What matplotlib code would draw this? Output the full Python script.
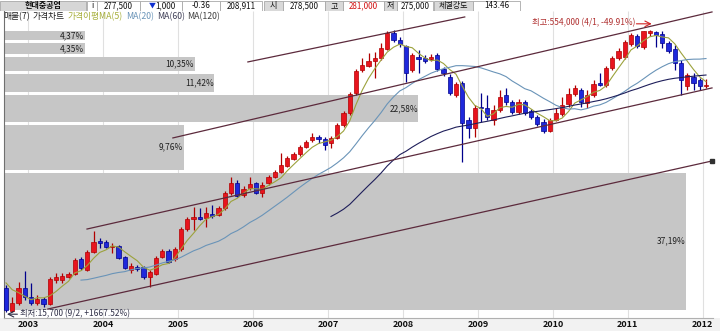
#! /usr/bin/env python3

import numpy as np
import pandas as pd
import matplotlib
matplotlib.use('Agg')
import matplotlib.pyplot as plt
import matplotlib.transforms as mtransforms
from matplotlib.patches import Rectangle

# monthly candles from 2002-09 to 2012-01 (현대중공업)
first_month = '2002-09'
opens = [21300, 15900, 17600, 21300, 19000, 17600, 18500, 17400, 23500, 23600,
         24400, 25400, 30700, 26700, 33500, 38500, 38000, 35700, 36100, 31500,
         26700, 27800, 27700, 24400, 25400, 31500, 33900, 30700, 34800, 44800,
         50900, 52200, 51500, 54200, 53500, 58500, 70700, 80400, 68900, 75300,
         80400, 70700, 80400, 86500, 92200, 99400, 108600, 115700, 126400, 138100,
         143000, 139900, 133000, 141700, 167000, 194300, 250300, 334600, 352000, 375000,
         389500, 436400, 534200, 489000, 453300, 334600, 394400, 389500, 384500, 404500,
         338900, 306300, 244000, 284000, 177900, 160700, 209700, 207000, 177900, 201800,
         244000, 223300, 196800, 223300, 199300, 184700, 173400, 154800, 177900, 191900,
         217700, 247100, 259900, 220500, 244000, 284000, 276800, 343100, 389500, 394400,
         464800, 514300, 447700, 535000, 540000, 527500, 470800, 436400, 365600, 273300,
         306300, 294900, 272000]
highs = [22100, 19000, 22900, 26400, 22600, 19500, 19000, 24400, 25700, 25700,
         26000, 31000, 31500, 34400, 43700, 40000, 39000, 37600, 36600, 31900,
         29200, 28400, 28100, 26700, 31900, 34800, 34800, 35700, 46000, 52200,
         59200, 58500, 59200, 60700, 60000, 72500, 86500, 83300, 77200, 86500,
         81300, 81300, 88700, 94500, 117200, 112800, 118700, 129700, 138100, 150900,
         147100, 143000, 145300, 171300, 199300, 253500, 339000, 389500, 414900, 420100,
         470800, 550000, 552000, 507800, 459000, 414900, 430900, 404500, 409600, 414900,
         347600, 318100, 287600, 291200, 185000, 215000, 250300, 244000, 215000, 259900,
         266600, 229000, 232000, 229000, 204400, 189500, 180100, 182400, 207000, 237900,
         266600, 276800, 266600, 259900, 294900, 322400, 352000, 399400, 442000, 489000,
         534200, 527500, 550000, 554000, 550000, 547000, 482800, 459000, 379700, 322400,
         322400, 302500, 298000]
lows = [15700, 15750, 17150, 18300, 17150, 17150, 16700, 17150, 22700, 22700,
        24100, 25000, 26700, 26400, 33100, 35300, 35300, 33100, 30700, 27000,
        25700, 26400, 23800, 21500, 25000, 31100, 29200, 29900, 33900, 43700,
        44300, 50200, 46000, 51500, 52900, 57000, 68900, 67100, 67100, 73400,
        69800, 67100, 78200, 85400, 91000, 98100, 107300, 112800, 124800, 134700,
        133000, 121700, 124800, 139900, 162800, 189500, 244000, 326300, 347600, 302500,
        379700, 430900, 476800, 447700, 287600, 326300, 322400, 365600, 374900, 330400,
        310200, 244000, 237900, 104600, 141700, 143000, 173400, 177900, 167000, 196800,
        215000, 191900, 191900, 189500, 180100, 164900, 150900, 152900, 175600, 187100,
        209700, 240900, 209700, 207000, 237900, 273300, 269900, 334600, 379700, 384500,
        453300, 442000, 436400, 514300, 447700, 442000, 414900, 334600, 244000, 259900,
        259900, 259900, 266000]
closes = [16100, 17600, 21300, 19000, 17600, 18500, 17400, 23800, 24400, 24700,
          25400, 30300, 27400, 33500, 38000, 37500, 35700, 36200, 31100, 27400,
          28100, 27200, 24400, 26000, 31100, 33900, 29500, 34800, 44800, 50900,
          52200, 50900, 54900, 52900, 58500, 70700, 80400, 68000, 74300, 79200,
          70700, 78200, 86500, 92200, 100700, 110000, 115700, 126400, 134700, 143000,
          139900, 129700, 141700, 167000, 194300, 247100, 330400, 356500, 375000, 389500,
          442000, 534200, 489000, 464800, 322400, 404500, 384500, 374900, 394400, 338900,
          322400, 250300, 280400, 171300, 160700, 207000, 207000, 184700, 201800, 237900,
          223300, 196800, 223300, 194300, 184700, 169100, 154800, 177900, 194300, 215000,
          247100, 266600, 223300, 244000, 280400, 276800, 343100, 389500, 425500, 476800,
          520900, 453300, 547000, 546000, 520900, 470800, 425500, 365600, 294900, 314100,
          284000, 273300, 277500]
# closes before the first shown month, they only feed the moving averages
pre_closes = [30500, 30000, 28500, 27000, 25000, 23500, 21800]

ma_periods = [5, 20, 60]
ma_colors = ['#9ca23c', '#6a94b8', '#1e1e5a']

# 매물(7): traded volume share per price band, lowest band first
vol_pct = [37.19, 9.76, 22.58, 11.42, 10.35, 4.35, 4.37]

# user drawn trend lines: (month index, price) -> (month index, price)
trend_lines = [
	((38.7, 370300), (73.4, 653900)),
	((26.7, 141700), (112.96, 696500)),
	((12.96, 44800), (112.96, 266600)),
	((6.7, 16300), (112.96, 105900)),
]

# quote header
header_cells = [
	('현대중공업', 0, 86, 'name'), ('i', 87, 97, 'val'), ('277,500', 97, 140, 'val'),
	('▼ 1,000', 140, 182, 'val'), ('-0.36', 182, 220, 'val'), ('208,911', 220, 262, 'val'),
	('시', 264, 283, 'lab'), ('278,500', 283, 325, 'val'), ('고', 325, 343, 'lab'),
	('281,000', 343, 384, 'red'), ('저', 384, 397, 'lab'), ('275,000', 397, 433, 'val'),
	('체결강도', 434, 473, 'lab'), ('143.46', 473, 520, 'val'),
]
legend_items = [('매물(7)', '#202020'), ('가격차트', '#202020'), ('가격이평MA(5)', '#a6ae3a'),
                ('MA(20)', '#6a94b8'), ('MA(60)', '#404058'), ('MA(120)', '#404040')]

W, H = 720, 331

def main ():
	plt.rcParams['font.family'] = ['Noto Sans CJK KR', 'DejaVu Sans']
	fig = plt.figure(figsize=(W/100, H/100), dpi=100)
	fig.patch.set_facecolor('white')

	n = len(closes)
	x = np.arange(n)
	months = pd.period_range(first_month, periods=n, freq='M')

	ax = fig.add_axes([4/W, 13/H, 709/W, 307/H])
	ax.set_yscale('log')
	ax.set_xlim(-0.32, n + 0.12)
	ax.set_ylim(14550, 705000)
	ax.set_facecolor('white')
	ax.yaxis.set_visible(False)
	for s in ['top', 'right']:
		ax.spines[s].set_visible(False)
	ax.spines['left'].set_color('#707070')
	ax.spines['bottom'].set_color('#b0b0b0')

	# year grid and labels
	tick_pos = [i - 0.5 for i, m in enumerate(months) if m.month == 1]
	tick_lab = [str(m.year) for m in months if m.month == 1]
	ax.set_xticks(tick_pos)
	ax.set_xticklabels(tick_lab, fontsize=6.5, fontweight='bold', color='#101010')
	ax.tick_params(axis='x', length=0, pad=1.5)
	ax.minorticks_off()
	ax.vlines(tick_pos, 14550, 705000, colors='#e0e0e0', lw=0.8, zorder=0)

	# volume by price bands
	lo_p, hi_p = min(lows), max(highs)
	edges = np.linspace(lo_p, hi_p, len(vol_pct) + 1)
	xmin, xmax = ax.get_xlim()
	span = xmax - xmin
	left = xmin + span * 1.0/709
	for k, pct in enumerate(vol_pct):
		b = edges[k] * 1.026
		t = edges[k+1] / 1.013
		w = pct / max(vol_pct) * span * 681/709
		ax.barh(b, w, height=t-b, left=left, align='edge', color='#c6c6c6', zorder=1)
		ax.text(left + w - 0.1, np.sqrt(b*t), '{:.2f}%'.format(pct).replace('.', ','),
		        ha='right', va='center', fontsize=6, color='#202020', zorder=2)

	# moving averages
	full = pd.Series(pre_closes + closes, dtype=float)
	for p, c in zip(ma_periods, ma_colors):
		ma = full.rolling(p).mean().values[len(pre_closes):]
		ax.plot(x, ma, color=c, lw=0.8, zorder=5)

	# candles
	o = np.array(opens, float); c = np.array(closes, float)
	up = c >= o
	body_lo = np.minimum(o, c)
	body_h = np.maximum(np.abs(c - o), body_lo * 0.012)
	for mask, fc, ec in [(up, '#e8141e', '#b00000'), (~up, '#1e28dc', '#00008c')]:
		ax.vlines(x[mask], np.array(lows)[mask], np.array(highs)[mask], colors=ec, lw=0.9, zorder=4)
		ax.bar(x[mask], body_h[mask], bottom=body_lo[mask], width=0.68, color=fc,
		       edgecolor=ec, linewidth=0.5, zorder=4)

	# trend lines
	for (x0, y0), (x1, y1) in trend_lines:
		ax.plot([x0, x1], [y0, y1], color='#5c2a3c', lw=0.9, zorder=6)
	(x0, y0), (x1, y1) = trend_lines[-1]
	ax.plot([x1], [y1], marker='s', ms=2.2, color='#303030', zorder=7, clip_on=False)

	# high / low marks
	ih = int(np.argmax(highs)); il = int(np.argmin(lows))
	hv, lv = highs[ih], lows[il]
	ax.annotate('최고:{:,} (4/1, {:.2f}%)'.format(hv, (closes[-1]/hv - 1)*100),
	            xy=(ih, hv), xytext=(-10, 5), textcoords='offset points',
	            ha='right', va='center', fontsize=6, color='#b03030', zorder=8)
	tr = mtransforms.offset_copy(ax.transData, fig=fig, x=1.4, y=4.5, units='points')
	ax.annotate('', xy=(ih, hv), xycoords=tr, xytext=(-11, 0), textcoords='offset points',
	            arrowprops=dict(arrowstyle='->', color='#d02020', lw=0.8, shrinkA=0, shrinkB=0), zorder=8)
	ax.annotate('최저:{:,} (9/2, +{:.2f}%)'.format(lv, (closes[-1]/lv - 1)*100),
	            xy=(il, lv), xytext=(10, -1.2), textcoords='offset points',
	            ha='left', va='center', fontsize=6, color='#303048', zorder=8)
	tr = mtransforms.offset_copy(ax.transData, fig=fig, x=0.7, y=-1.6, units='points')
	ax.annotate('', xy=(il, lv), xycoords=tr, xytext=(7.5, 0), textcoords='offset points',
	            arrowprops=dict(arrowstyle='->', color='#303048', lw=0.8, shrinkA=0, shrinkB=0), zorder=8)

	# bottom strip
	fig.patches.append(Rectangle((0, 0), 1, 13/H, transform=fig.transFigure,
	                             facecolor='#f2f2f2', edgecolor='none', zorder=-1))

	# quote header
	hax = fig.add_axes([0, 1 - 11/H, 1, 11/H])
	hax.set_xlim(0, W); hax.set_ylim(11, 0)
	hax.axis('off')
	for label, a, b, kind in header_cells:
		bg = {'name': '#d6d6d6', 'lab': '#d9d9d9'}.get(kind, 'white')
		hax.add_patch(Rectangle((a, 0.5), b - a, 10, facecolor=bg, edgecolor='#a8a8a8', lw=0.6))
		col = '#d01010' if kind == 'red' else '#101010'
		wt = 'bold' if kind == 'name' else 'normal'
		if label.startswith('▼'):
			hax.text((a+b)/2 - 9, 5.8, '▼', ha='center', va='center', fontsize=5, color='#1030d0')
			hax.text((a+b)/2 + 4, 5.8, label[2:], ha='center', va='center', fontsize=5.8, color=col)
			continue
		hax.text((a+b)/2, 5.8, label, ha='center', va='center', fontsize=5.8, color=col, fontweight=wt)

	# legend line
	renderer = fig.canvas.get_renderer()
	px = 3
	for txt, col in legend_items:
		t = fig.text(px/W, 1 - 17/H, txt, color=col, fontsize=6.3, va='center', ha='left')
		bb = t.get_window_extent(renderer)
		px = bb.x1 + 3

	fig.savefig('out.png', dpi=100)

if __name__ == "__main__":
	main()
